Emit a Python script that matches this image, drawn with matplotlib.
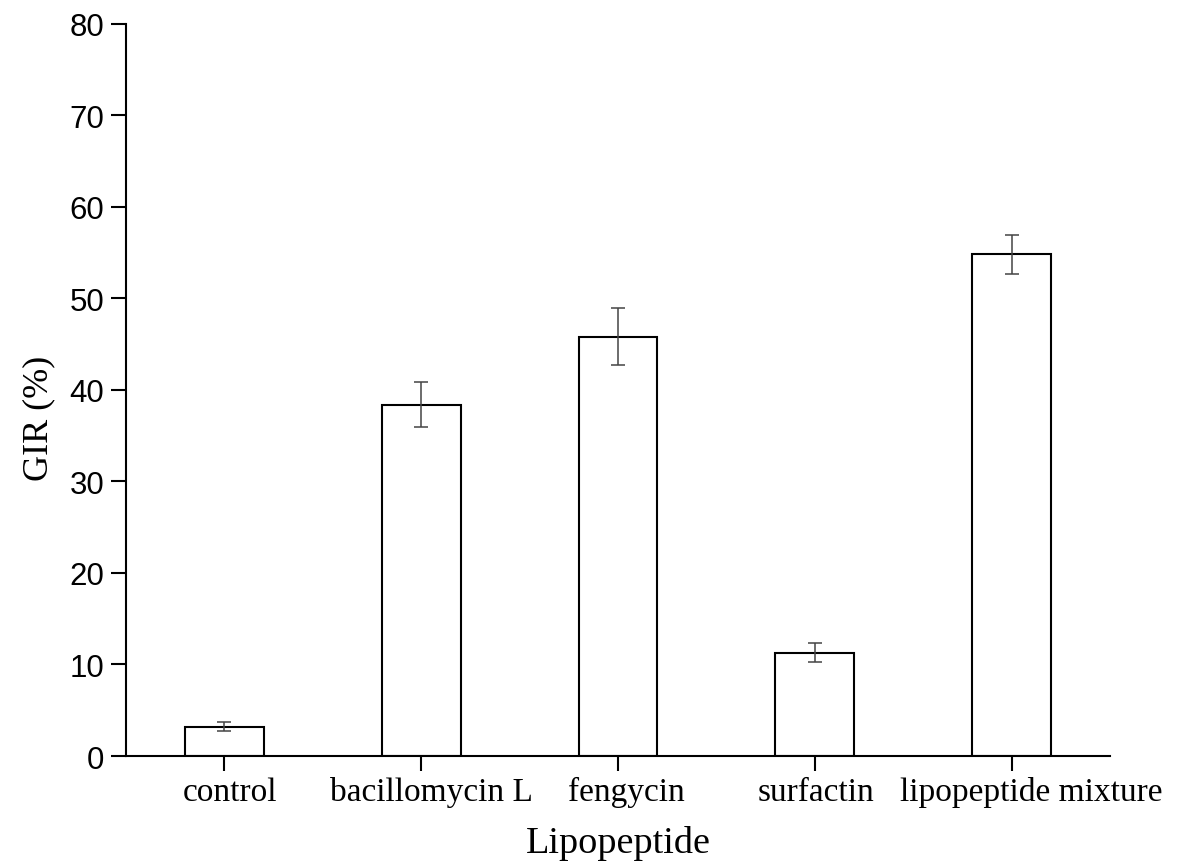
import numpy as np
import matplotlib
matplotlib.use('Agg')
import matplotlib.pyplot as plt
from matplotlib.transforms import ScaledTranslation

categories = ['control', 'bacillomycin L', 'fengycin', 'surfactin', 'lipopeptide mixture']
gir = [3.2, 38.4, 45.8, 11.3, 54.8]
gir_err = [0.5, 2.5, 3.1, 1.0, 2.1]

# labels in the original sit a little right of their ticks (px)
label_shift = [6, 10, 8, 1, 20]

fig = plt.figure(figsize=(11.84, 8.62), dpi=100)
ax = fig.add_axes([0.1064, 0.1218, 0.8311, 0.8495])

x = np.arange(len(categories))
ax.bar(x, gir, width=0.4, color='white', edgecolor='black', linewidth=1.5, zorder=2)
ax.errorbar(x, gir, yerr=gir_err, fmt='none', ecolor='#444444', elinewidth=1.1,
            capsize=5.3, capthick=1.1, zorder=3)

ax.set_xlim(-0.5, 4.5)
ax.set_ylim(0, 80)
ax.set_yticks(range(0, 81, 10))
ax.set_xticks(x)
ax.set_xticklabels(categories, family='Liberation Serif', fontsize=24)
for lbl in ax.get_yticklabels():
    lbl.set_family('Liberation Sans')
    lbl.set_fontsize(22.5)

ax.spines['top'].set_visible(False)
ax.spines['right'].set_visible(False)
for s in ['left', 'bottom']:
    ax.spines[s].set_linewidth(1.5)
ax.tick_params(axis='both', direction='out', length=10.5, width=1.5)
ax.tick_params(axis='y', pad=5)
ax.tick_params(axis='x', pad=4)

ax.set_xlabel('Lipopeptide', family='Liberation Serif', fontsize=27.5, labelpad=13)
ax.set_ylabel('GIR (%)', family='Liberation Serif', fontsize=26)
ax.yaxis.set_label_coords(-0.072, 0.462)

# shift after tick_params, which resets the label transforms
for tick, dx in zip(ax.xaxis.get_major_ticks(), label_shift):
    lbl = tick.label1
    lbl.set_transform(lbl.get_transform() + ScaledTranslation(dx / 100, 0, fig.dpi_scale_trans))

fig.savefig('out.png', dpi=100)
